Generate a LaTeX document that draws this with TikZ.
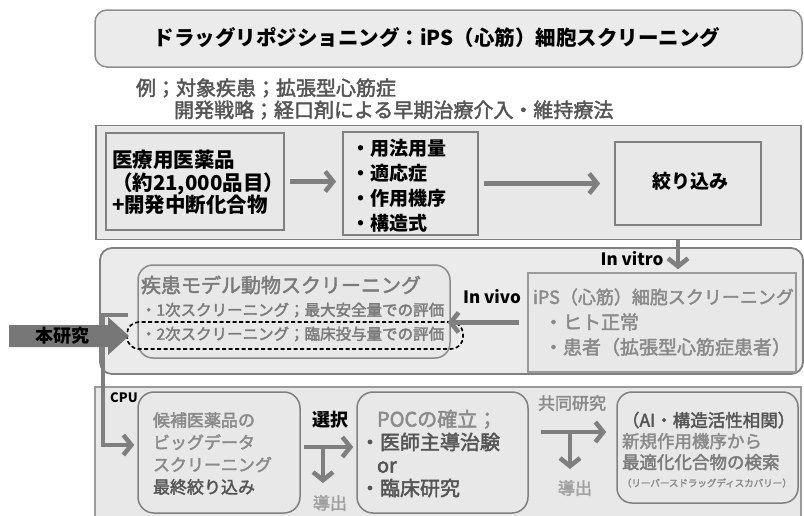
\documentclass[tikz,border=0pt]{standalone}
\usepackage{fontspec}
\setmainfont{Noto Sans CJK JP}
\newfontfamily\medf{Noto Sans CJK JP}[FakeBold=2.2]
\usetikzlibrary{arrows.meta,calc}
\definecolor{boxfill}{HTML}{E8E8E8}
\definecolor{titlefill}{HTML}{EBEBEB}
\definecolor{edgegray}{HTML}{808080}
\definecolor{lightedge}{HTML}{9A9A9A}
\definecolor{arrowgray}{HTML}{7F7F7F}
\definecolor{bigarrow}{HTML}{777777}
\definecolor{txtlight}{HTML}{8A8A8A}
\definecolor{txtmid}{HTML}{7A7A7A}
\definecolor{txtdark}{HTML}{555555}
\definecolor{txtpale}{HTML}{A0A0A0}
\newcommand\fsz[2]{\fontsize{#1}{#2}\selectfont}
\begin{document}
\begin{tikzpicture}[x=1pt,y=-1pt,
  box/.style={draw=edgegray, fill=boxfill, line width=1.8pt, inner sep=0pt},
  lbl/.style={inner sep=0pt, outer sep=0pt, anchor=west, align=left},
  arr/.style={draw=arrowgray, line width=4.5pt, -{Straight Barb[length=8pt,width=20pt]}}
]
\useasboundingbox (0,0) rectangle (804,515);

% ---------- title ----------
\node[box, draw=edgegray!90, line width=1.5pt, fill=titlefill, rounded corners=12pt,
      minimum width=707pt, minimum height=57pt] (titlebox) at (448.5,38.5) {};
\node[inner sep=0pt, font=\fsz{20.5}{24}\bfseries] (titletext) at (437,38)
  {ドラッグリポジショニング：iPS（心筋）細胞スクリーニング};

\node[lbl, text=txtdark, font=\medf\fsz{20}{24}] (rei) at (136,88) {例；対象疾患；拡張型心筋症};
\node[lbl, text=txtdark, font=\medf\fsz{20}{24}] (kaihatsu) at (174,110) {開発戦略；経口剤による早期治療介入・維持療法};

% ---------- row 2 ----------
\node[box, minimum width=705pt, minimum height=114pt] (frame2) at (448.5,182.5) {};
\node[box, minimum width=178pt, minimum height=97pt] (iyaku) at (195,181.5) {};
\node[box, minimum width=135pt, minimum height=103pt] (list) at (410.5,183.5) {};
\node[box, minimum width=146pt, minimum height=83pt] (shibori) at (688,183.5) {};

\node[lbl, font=\fsz{20.5}{22.5}\bfseries] (iyakutext) at (112,182.5)
  {医療用医薬品\\（約21,000品目）\\+開発中断化合物};
\node[lbl, font=\fsz{19}{25}\bfseries] (listtext) at (351,186)
  {・用法用量\\・適応症\\・作用機序\\・構造式};
\node[inner sep=0pt, font=\fsz{19}{22}\bfseries] (shiboritext) at (690,181) {絞り込み};

\draw[arr, shorten <=5pt, shorten >=6pt] (iyaku.east) -- (iyaku.east -| list.west);
\draw[arr, shorten <=5pt, shorten >=14pt] (list.east) -- (list.east -| shibori.west);

% ---------- row 3 ----------
\node[box, rounded corners=12pt, fill=titlefill, minimum width=703pt, minimum height=126pt] (frame3) at (451.5,311) {};
\node[box, rounded corners=15pt, draw=txtlight, line width=1.5pt, minimum width=312pt, minimum height=93pt] (shikkan) at (294,311.5) {};
\node[box, draw=lightedge, line width=1.5pt, minimum width=268pt, minimum height=99pt] (ipsbox) at (662,322.5) {};
\node[draw=black, line width=1.6pt, dash pattern=on 4pt off 2.5pt, rounded corners=12pt,
      inner sep=0pt, minimum width=336pt, minimum height=27pt] (dashbox) at (295,335.5) {};

\node[lbl, text=txtmid, font=\medf\fsz{20}{24}] (shikkantitle) at (141,285) {疾患モデル動物スクリーニング};
\node[lbl, text=txtmid, font=\medf\fsz{15.5}{18}] (ichiji) at (141,310) {・1次スクリーニング；最大安全量での評価};
\node[lbl, text=txtmid, font=\medf\fsz{15.5}{18}] (niji) at (141,334) {・2次スクリーニング；臨床投与量での評価};

\node[lbl, text=txtlight, font=\medf\fsz{18}{22}] (ipstitle) at (533,297) {iPS（心筋）細胞スクリーニング};
\node[lbl, text=txtlight, font=\medf\fsz{19}{22}] (ipsa) at (544,322) {・ヒト正常};
\node[lbl, text=txtlight, font=\medf\fsz{19}{22}] (ipsb) at (544,347) {・患者（拡張型心筋症患者）};

\node[inner sep=0pt, font=\fsz{17}{20}\bfseries] (invivo) at (492,297) {In vivo};
\node[inner sep=0pt, font=\fsz{17}{20}\bfseries] (invitro) at (632,259) {In vitro};

\coordinate (vx) at (678,0);
\draw[arr] (frame2.south -| vx) -- ([yshift=3pt]ipsbox.north -| vx);
\draw[arr, shorten <=8pt, shorten >=-3pt] (ipsbox.west) -- (ipsbox.west -| shikkan.east);

% ---------- row 4 ----------
\node[box, draw=lightedge, line width=1.3pt, minimum width=706pt, minimum height=138pt] (frame4) at (448,456) {};
\node[box, rounded corners=16pt, line width=1.5pt, minimum width=162pt, minimum height=121pt] (kouho) at (219,452.5) {};
\node[box, rounded corners=16pt, line width=1.5pt, minimum width=171pt, minimum height=121pt] (poc) at (442.5,452.5) {};
\node[box, rounded corners=15pt, line width=1.5pt, minimum width=181pt, minimum height=111pt] (ai) at (707.5,447.5) {};

\node[inner sep=0pt, font=\fsz{13}{15}\bfseries] (cpu) at (124,398) {CPU};
\node[lbl, font=\medf\fsz{17}{22.3}] (kouhotext) at (153,453.5)
  {\textcolor{txtlight}{候補医薬品の}\\\textcolor{txtlight}{ビッグデータ}\\\textcolor{txtlight}{スクリーニング}\\\textcolor{txtdark}{最終絞り込み}};
\node[inner sep=0pt, font=\fsz{18}{22}\bfseries] (sentaku) at (330,420) {選択};
\node[inner sep=0pt, text=txtpale, font=\medf\fsz{17}{20}] (dou1) at (330,503) {導出};
\node[lbl, font=\medf\fsz{20}{23}] (poctext) at (360,453.5)
  {\hspace*{17pt}\textcolor{txtlight}{POCの確立；}\\\textcolor{txtdark}{・医師主導治験}\\\hspace*{17pt}\textcolor{txtdark}{or}\\\textcolor{txtdark}{・臨床研究}};
\node[inner sep=0pt, text=txtlight, font=\medf\fsz{17}{20}] (kyodo) at (572,403) {共同研究};
\node[inner sep=0pt, text=txtpale, font=\medf\fsz{17}{20}] (dou2) at (575,488) {導出};
\node[lbl, font=\medf\fsz{17.5}{21}] (aitext) at (622,441)
  {\textcolor{txtdark}{（AI・構造活性相関）}\\\textcolor{txtlight}{新規作用機序から}\\\textcolor{txtmid}{最適化化合物の検索}};
\node[lbl, text=txtlight, font=\medf\fsz{9.5}{11}] (aismall) at (622,483) {（リーバースドラッグディスカバリー）};

\draw[arr, shorten <=3pt, shorten >=3pt] ([yshift=5.5pt]kouho.east) -- ([yshift=5.5pt]poc.west);
\coordinate (tja) at (323,445);
\coordinate (tjab) at (323,483);
\draw[arr] (tja) -- (tjab);
\draw[arr, shorten <=12pt, shorten >=10pt] ([yshift=20.5pt]poc.east) -- ([yshift=20.5pt]poc.east -| ai.west);
\coordinate (tjb) at (570,430);
\coordinate (tjbb) at (570,469);
\draw[arr] (tjb) -- (tjbb);

% ---------- left feed line ----------
\coordinate (tstart) at (128,315);
\coordinate (tcorner) at (103,445);
\draw[arr, shorten >=3pt] (tstart) -| (tcorner) -- ([yshift=7.5pt]kouho.west);

% ---------- big arrow ----------
\fill[bigarrow] (9,325) -- (108,325) -- (108,317) -- (129,336) -- (108,355) -- (108,347) -- (9,347) -- cycle;
\node[inner sep=0pt, font=\fsz{18}{20}\bfseries] (honken) at (62,336) {本研究};
\end{tikzpicture}
\end{document}
